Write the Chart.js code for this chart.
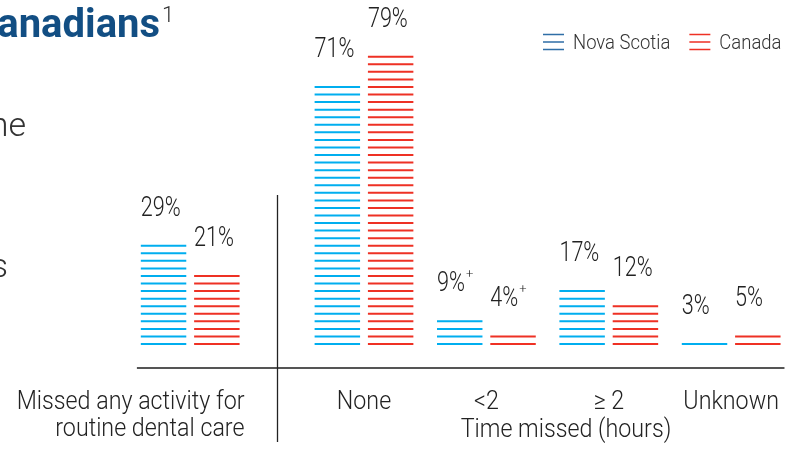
<!DOCTYPE html>
<html>
<head>
<meta charset="utf-8">
<script src="https://cdn.jsdelivr.net/npm/chart.js@4.4.0/dist/chart.umd.min.js"></script>
<style>
  html, body { margin: 0; padding: 0; background: #fff; }
  #wrap { width: 793px; height: 451px; }
</style>
</head>
<body>
<div id="wrap"><canvas id="chart" width="793" height="451"></canvas></div>
<script>
// categories along the axis; the first one sits left of the divider
const categories = [['Missed any activity for', 'routine dental care'], 'None', '<2', '\u2265 2', 'Unknown'];
const seriesNames = ['Nova Scotia', 'Canada'];
const novaScotia = [29, 71, 9, 17, 3];
const canada = [21, 79, 4, 12, 5];
// "+" = use with caution
const novaScotiaMarks = ['', '', '+', '', ''];
const canadaMarks = ['', '', '+', '', ''];
const axisTitle = 'Time missed (hours)';

const BLUE = '#00aeef';
const RED = '#ee3124';
const LEGEND_BLUE = '#2f6ea6';
const INK = '#222';
const GAP = 7.56;          // distance between stripes
const STRIPE_W = 2;

// extra space after the first group for the divider
const slot = i => (i === 0 ? 0 : i + 0.42);

function narrowText(ctx, text, x, y, font, color, align, sx) {
  ctx.save();
  ctx.font = font;
  ctx.fillStyle = color;
  ctx.textAlign = align || 'left';
  ctx.textBaseline = 'alphabetic';
  ctx.translate(x, y);
  ctx.scale(sx || 1, 1);
  ctx.fillText(text, 0, 0);
  const w = ctx.measureText(text).width * (sx || 1);
  ctx.restore();
  return w;
}

// striped bars + value labels
const stripedBars = {
  id: 'stripedBars',
  afterDatasetsDraw(chart) {
    const ctx = chart.ctx;
    chart.data.datasets.forEach((ds, di) => {
      const meta = chart.getDatasetMeta(di);
      meta.data.forEach((bar, i) => {
        const { x, y, base, width } = bar.getProps(['x', 'y', 'base', 'width'], true);
        const n = Math.max(1, Math.round((base - y) / GAP));
        const left = x - width / 2;
        ctx.save();
        ctx.beginPath();
        for (let k = 0; k < n; k++) {
          const yy = base - 3.5 - k * GAP;
          ctx.moveTo(left, yy);
          ctx.lineTo(left + width, yy);
        }
        ctx.strokeStyle = ds.stripeColor;
        ctx.lineWidth = STRIPE_W;
        ctx.stroke();
        ctx.restore();

        const top = base - 3.5 - (n - 1) * GAP;
        const v = ds.data[i].y;
        const w = narrowText(ctx, v + '%', left, top - 30, '300 27px Roboto', INK, 'left', 0.8);
        if (ds.marks[i]) {
          narrowText(ctx, ds.marks[i], left + w + 1, top - 43, '300 13px Roboto', INK, 'left', 1);
        }
      });
    });
  }
};

// axis line, divider, category labels, legend and heading
const frame = {
  id: 'frame',
  afterDraw(chart) {
    const ctx = chart.ctx;
    const xs = chart.scales.x;
    const area = chart.chartArea;
    const half = 53.3;

    // baseline
    ctx.save();
    ctx.beginPath();
    ctx.moveTo(xs.getPixelForValue(slot(0)) - half, area.bottom);
    ctx.lineTo(xs.getPixelForValue(slot(categories.length - 1)) + half, area.bottom);
    ctx.strokeStyle = '#555';
    ctx.lineWidth = 2;
    ctx.stroke();

    // divider
    const dx = Math.round((xs.getPixelForValue(slot(0)) + xs.getPixelForValue(slot(1))) / 2) + 0.5;
    ctx.beginPath();
    ctx.moveTo(dx, 195);
    ctx.lineTo(dx, 442);
    ctx.strokeStyle = INK;
    ctx.lineWidth = 1.3;
    ctx.stroke();
    ctx.restore();

    const labFont = '300 25px Roboto';
    categories.forEach((c, i) => {
      const px = xs.getPixelForValue(slot(i));
      if (Array.isArray(c)) {
        c.forEach((line, j) => narrowText(ctx, line, px + half + 1, 409 + j * 27, labFont, INK, 'right', 0.93));
      } else {
        narrowText(ctx, c, px, 409, labFont, INK, 'center', 0.93);
      }
    });
    narrowText(ctx, axisTitle, 566, 437, labFont, INK, 'center', 0.93);

    // legend
    const legFont = '300 21px Roboto';
    let lx = 543;
    [[seriesNames[0], LEGEND_BLUE], [seriesNames[1], RED]].forEach(([name, col]) => {
      ctx.save();
      ctx.beginPath();
      for (let k = 0; k < 3; k++) {
        ctx.moveTo(lx, 34.5 + k * 7.5);
        ctx.lineTo(lx + 21, 34.5 + k * 7.5);
      }
      ctx.strokeStyle = col;
      ctx.lineWidth = 1.5;
      ctx.stroke();
      ctx.restore();
      const w = narrowText(ctx, name, lx + 30, 49, legFont, '#333', 'left', 0.88);
      lx += 30 + w + 19;
    });

    // heading and body text running in from the left
    narrowText(ctx, 'Canadians', 160, 37, 'bold 40px Roboto', '#124e83', 'right', 1);
    narrowText(ctx, '1', 162, 22, '300 22px Roboto', '#333', 'left', 1);
    narrowText(ctx, 'ne', 26, 136, '300 34px Roboto', '#333', 'right', 1);
    narrowText(ctx, 's', 8, 277, '300 34px Roboto', '#333', 'right', 1);
  }
};

new Chart(document.getElementById('chart'), {
  type: 'bar',
  data: {
    datasets: [
      {
        label: seriesNames[0],
        data: novaScotia.map((v, i) => ({ x: slot(i), y: v })),
        backgroundColor: 'rgba(0,0,0,0)',
        stripeColor: BLUE,
        marks: novaScotiaMarks,
      },
      {
        label: seriesNames[1],
        data: canada.map((v, i) => ({ x: slot(i), y: v })),
        backgroundColor: 'rgba(0,0,0,0)',
        stripeColor: RED,
        marks: canadaMarks,
      }
    ]
  },
  options: {
    responsive: false,
    animation: false,
    layout: { padding: { left: 129, right: 1, top: 20, bottom: 83 } },
    categoryPercentage: 0.871,
    barPercentage: 0.853,
    plugins: {
      legend: { display: false },
      tooltip: { enabled: false },
    },
    scales: {
      x: {
        type: 'linear',
        display: false,
        offset: false,
        min: -0.5,
        max: 4.917,
        afterBuildTicks: (scale) => {
          scale.ticks = categories.map((c, i) => ({ value: slot(i) }));
        },
      },
      y: {
        display: false,
        min: -5.53,
        max: 88.42,
      }
    }
  },
  plugins: [stripedBars, frame]
});
</script>
</body>
</html>
